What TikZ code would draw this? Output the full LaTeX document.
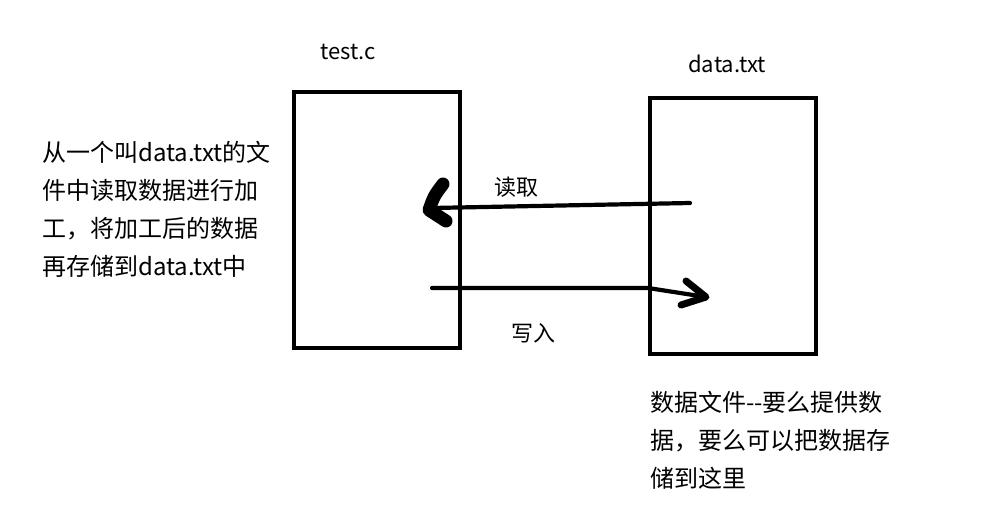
\documentclass[tikz,border=0pt]{standalone}
\usepackage{fontspec}
\setmainfont{Noto Sans CJK SC}
\begin{document}
\begin{tikzpicture}[x=1pt, y=-1pt,
  box/.style={draw, line width=3.6pt, minimum width=166pt, minimum height=256pt, inner sep=0pt},
  lbl/.style={font=\fontsize{22}{24}\selectfont, inner sep=0pt},
  note/.style={font=\fontsize{24}{38}\selectfont, align=left, anchor=north west, inner sep=0pt},
  flow/.style={line width=4.2pt, line cap=round}]
  \useasboundingbox (0,0) rectangle (1003,522);
  % two files
  \node[box] (prog) at (377,220) {};
  \node[box] (data) at (733,226) {};
  \node[lbl] (progname) at (348,52) {test.c};
  \node[lbl] (dataname) at (727,64) {data.txt};
  % read: data.txt -> test.c
  \coordinate (rdfrom) at (690,203);
  \coordinate (rdto) at (432,208);
  \draw[flow] (rdfrom) -- (rdto);
  \draw[line width=13pt, line cap=round, line join=round]
    (443,184) .. controls (434,196) .. (429,210) -- (446,221);
  \node[lbl] (rdlbl) at (516,187) {读取};
  % write: test.c -> data.txt
  \coordinate (wrfrom) at (432,288);
  \coordinate (wrto) at (706,297);
  \draw[flow] (wrfrom) -- (648,288) -- (wrto);
  \draw[line width=7pt, line cap=round, line join=round]
    (686,281) -- (706,297) -- (681,305);
  \node[lbl] (wrlbl) at (533,333) {写入};
  % notes
  \node[note] (leftnote) at (42,141) {从一个叫data.txt的文\\件中读取数据进行加\\工，将加工后的数据\\再存储到data.txt中};
  \node[note] (rightnote) at (650,391) {数据文件-{}-要么提供数\\据，要么可以把数据存\\储到这里};
\end{tikzpicture}
\end{document}
